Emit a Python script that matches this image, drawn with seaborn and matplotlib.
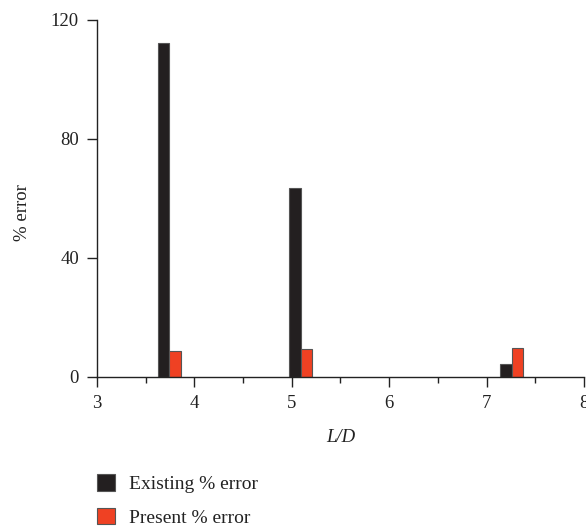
import pandas as pd
import seaborn as sns
import matplotlib.pyplot as plt
from matplotlib.ticker import MultipleLocator

# values
ld_ratio = [3.74, 5.09, 7.26]
existing_error = [112.4, 63.4, 4.4]
present_error = [8.7, 9.3, 9.7]
series_names = ["Existing % error", "Present % error"]
series_colors = ["#231f20", "#ef4123"]

df = pd.DataFrame({
    "L/D": ld_ratio * 2,
    "error": existing_error + present_error,
    "series": [series_names[0]] * 3 + [series_names[1]] * 3,
})

sns.set_style("ticks")
plt.rcParams["font.family"] = ["Liberation Serif", "DejaVu Serif"]
plt.rcParams["font.size"] = 13.5

fig = plt.figure(figsize=(5.86, 5.26), dpi=100)
ax = fig.add_axes([0.1655, 0.2833, 0.8311, 0.6787])

sns.barplot(data=df, x="L/D", y="error", hue="series", native_scale=True,
            palette=series_colors, width=0.174, edgecolor="#555555",
            linewidth=0.8, saturation=1, ax=ax, legend=True)

ax.set_xlim(3, 8)
ax.set_ylim(0, 120)
ax.set_xticks([3, 4, 5, 6, 7, 8])
ax.xaxis.set_minor_locator(MultipleLocator(0.5))
ax.set_yticks([0, 40, 80, 120])
ax.tick_params(axis="both", which="major", length=7, width=1, labelsize=13.5,
               color="#222222", labelcolor="#222222")
ax.tick_params(axis="x", which="major", pad=6)
ax.tick_params(axis="y", which="major", pad=6)
ax.tick_params(axis="x", which="minor", length=4, width=1, color="#222222")
for side in ["top", "right"]:
    ax.spines[side].set_visible(False)
for side in ["left", "bottom"]:
    ax.spines[side].set_linewidth(1)
    ax.spines[side].set_color("#222222")

ax.set_xlabel("L/D", fontstyle="italic", fontsize=13.5, labelpad=12, color="#222222")
ax.set_ylabel("% error", fontsize=13.5, color="#222222")
ax.yaxis.set_label_coords(-0.135, 0.46)

handles, labels = ax.get_legend_handles_labels()
ax.get_legend().remove()
fig.legend(handles, labels, loc="upper left", bbox_to_anchor=(97 / 586, 1 - 474 / 526),
           frameon=False, borderpad=0, borderaxespad=0, handlelength=0.95,
           handleheight=0.95, handletextpad=0.7, labelspacing=0.75, fontsize=14,
           labelcolor="#222222")

fig.savefig("out.png", dpi=100)
